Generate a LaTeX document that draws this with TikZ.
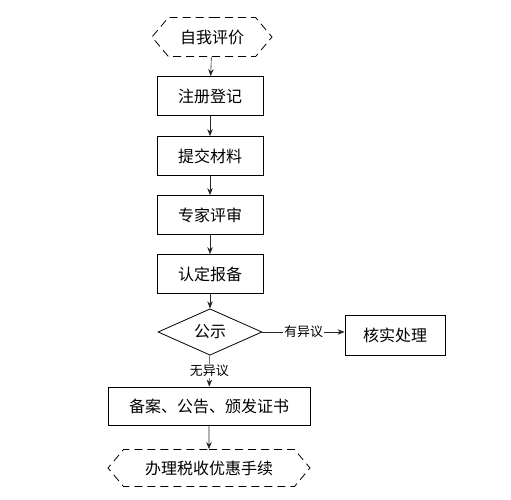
\documentclass[tikz,border=0pt]{standalone}
\usepackage{fontspec}
\setmainfont{Noto Sans CJK SC}
\usetikzlibrary{shapes.geometric,shapes.symbols,arrows.meta}
\tikzset{
  stepbox/.style={draw,thick,minimum width=106pt,minimum height=39pt,inner sep=0pt,
    font=\fontsize{16}{19}\selectfont},
  endbox/.style={draw,thick,dash pattern=on 8pt off 5pt,signal,signal to=west and east,
    signal pointer angle=100,inner sep=0pt,minimum height=39pt,font=\fontsize{16}{19}\selectfont},
  decide/.style={draw,thick,diamond,inner sep=0pt,minimum width=104pt,minimum height=39pt,
    font=\fontsize{16}{19}\selectfont},
  flow/.style={draw=black!85,semithick,-{Stealth[length=7pt,width=5.5pt]}},
  tag/.style={fill=white,inner sep=1pt,font=\fontsize{13}{15}\selectfont}
}
\begin{document}
\begin{tikzpicture}[x=1pt,y=-1pt]
  \useasboundingbox (0,0) rectangle (511,499);
  \node[endbox,minimum width=120pt] (self) at (212,37) {自我评价};
  \node[stepbox] (reg) at (210,96) {注册登记};
  \node[stepbox] (doc) at (210,156) {提交材料};
  \node[stepbox] (rev) at (210,215) {专家评审};
  \node[stepbox] (rep) at (210,274) {认定报备};
  \node[decide] (pub) at (210,332) {公示};
  \node[stepbox,minimum width=100pt,minimum height=40pt] (chk) at (395,335) {核实处理};
  \node[stepbox,minimum width=202pt,minimum height=38pt] (fin) at (209,406) {备案、公告、颁发证书};
  \node[endbox,minimum width=202pt,minimum height=37pt] (tax) at (209,468) {办理税收优惠手续};
  \draw[flow] (self) -- (reg);
  \draw[flow] (reg) -- (doc);
  \draw[flow] (doc) -- (rev);
  \draw[flow] (rev) -- (rep);
  \draw[flow] (rep) -- (pub);
  \draw[flow] (pub.east) -- (chk.west |- pub.east) node[tag,midway] {有异议};
  \draw[flow] (pub) -- (fin) node[tag,pos=0.5] {无异议};
  \draw[flow] (fin) -- (tax);
\end{tikzpicture}
\end{document}
